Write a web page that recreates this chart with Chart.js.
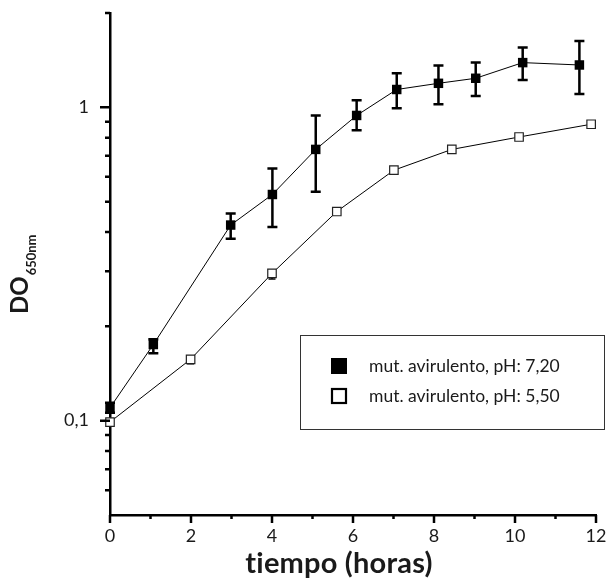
<!DOCTYPE html>
<html>
<head>
<meta charset="utf-8">
<script src="https://cdn.jsdelivr.net/npm/chart.js@4/dist/chart.umd.min.js"></script>
<style>
  html, body { margin: 0; padding: 0; background: #fff; }
  #wrap { width: 610px; height: 582px; }
</style>
</head>
<body>
<div id="wrap"><canvas id="growthChart" width="610" height="582"></canvas></div>
<script>
// pH 7,20 series (filled squares)
const timeA = [0, 1.07, 2.98, 4.01, 5.08, 6.09, 7.08, 8.11, 9.03, 10.19, 11.59];
const odA   = [0.110, 0.175, 0.421, 0.527, 0.734, 0.942, 1.14, 1.193, 1.238, 1.389, 1.365];
const hiA   = [0.114, 0.182, 0.458, 0.638, 0.942, 1.054, 1.284, 1.36, 1.389, 1.551, 1.628];
const loA   = [0.106, 0.164, 0.381, 0.415, 0.538, 0.845, 0.993, 1.022, 1.087, 1.222, 1.103];

// pH 5,50 series (open squares)
const timeB = [0, 1.99, 4.0, 5.6, 7.01, 8.44, 10.1, 11.88];
const odB   = [0.099, 0.157, 0.295, 0.465, 0.630, 0.734, 0.804, 0.883];
const hiB   = [0.101, 0.160, 0.300, 0.470, 0.636, 0.740, 0.812, 0.905];
const loB   = [0.097, 0.152, 0.283, 0.460, 0.624, 0.728, 0.796, 0.862];

const seriesLabels = ['mut. avirulento, pH: 7,20', 'mut. avirulento, pH: 5,50'];

// axis ticks
const xMajorTicks = [0, 2, 4, 6, 8, 10, 12];
const xMinorTicks = [1, 3, 5, 7, 9, 11];
const yMajorTicks = [0.1, 1];
const yMinorTicks = [0.06, 0.07, 0.08, 0.09, 0.2, 0.3, 0.4, 0.5, 0.6, 0.7, 0.8, 0.9, 2];
const yTickLabels = { '0.1': '0,1', '1': '1' };

const xTitle = 'tiempo (horas)';
const yTitleMain = 'DO';
const yTitleSub = '650nm';

const FONT = 'Lato, "Open Sans", sans-serif';
const INK = '#1a1a1a';

const toPoints = (xs, ys) => xs.map((x, i) => ({ x: x, y: ys[i] }));

// error bars, tick marks, legend box and titles
const extrasPlugin = {
    id: 'extras',
    beforeDatasetsDraw(chart) {
        const ctx = chart.ctx;
        const xs = chart.scales.x, ys = chart.scales.y;
        const bars = [
            { t: timeA, hi: hiA, lo: loA, w: 2.5, cap: 5 },
            { t: timeB, hi: hiB, lo: loB, w: 1.5, cap: 3.5 }
        ];
        ctx.save();
        ctx.strokeStyle = '#000';
        bars.forEach(b => {
            ctx.lineWidth = b.w;
            b.t.forEach((t, i) => {
                const px = xs.getPixelForValue(t);
                const top = ys.getPixelForValue(b.hi[i]);
                const bot = ys.getPixelForValue(b.lo[i]);
                ctx.beginPath();
                ctx.moveTo(px, top); ctx.lineTo(px, bot);
                ctx.moveTo(px - b.cap, top); ctx.lineTo(px + b.cap, top);
                ctx.moveTo(px - b.cap, bot); ctx.lineTo(px + b.cap, bot);
                ctx.stroke();
            });
        });
        ctx.restore();
    },
    afterDraw(chart) {
        const ctx = chart.ctx;
        const xs = chart.scales.x, ys = chart.scales.y;
        const area = chart.chartArea;
        ctx.save();
        // tick marks
        ctx.strokeStyle = '#000';
        ctx.lineWidth = 2.5;
        ctx.beginPath();
        xMajorTicks.forEach(v => { const p = xs.getPixelForValue(v); ctx.moveTo(p, area.bottom); ctx.lineTo(p, area.bottom + 8); });
        xMinorTicks.forEach(v => { const p = xs.getPixelForValue(v); ctx.moveTo(p, area.bottom); ctx.lineTo(p, area.bottom + 4); });
        yMajorTicks.forEach(v => { const p = ys.getPixelForValue(v); ctx.moveTo(area.left - 10, p); ctx.lineTo(area.left, p); });
        yMinorTicks.forEach(v => { const p = ys.getPixelForValue(v); ctx.moveTo(area.left - 5, p); ctx.lineTo(area.left, p); });
        ctx.stroke();

        // legend box
        const lx = 300, ly = 335, lw = 304, lh = 94;
        ctx.lineWidth = 1;
        ctx.strokeStyle = '#333';
        ctx.strokeRect(lx + 0.5, ly + 0.5, lw, lh);
        ctx.font = '17.5px ' + FONT;
        ctx.textBaseline = 'middle';
        ctx.textAlign = 'left';
        chart.data.datasets.forEach((ds, i) => {
            const cy = ly + 31 + i * 30;
            if (i === 0) {
                ctx.fillStyle = '#000';
                ctx.fillRect(331, cy - 8, 16, 16);
            } else {
                ctx.fillStyle = '#fff';
                ctx.fillRect(332, cy - 7, 14, 14);
                ctx.lineWidth = 2.2;
                ctx.strokeStyle = '#000';
                ctx.strokeRect(332, cy - 7, 14, 14);
            }
            ctx.fillStyle = INK;
            ctx.fillText(ds.label, 369, cy);
        });

        // x title (letter spacing keeps the "ti" ligature off)
        ctx.fillStyle = INK;
        ctx.font = 'bold 29px ' + FONT;
        ctx.letterSpacing = '0.2px';
        ctx.textAlign = 'center';
        ctx.textBaseline = 'alphabetic';
        ctx.fillText(xTitle, 339, 573);
        ctx.letterSpacing = '0px';

        // y title with subscript
        ctx.translate(28, 314);
        ctx.rotate(-Math.PI / 2);
        ctx.textAlign = 'left';
        ctx.font = 'bold 24px ' + FONT;
        ctx.fillText(yTitleMain, 0, 0);
        const w = ctx.measureText(yTitleMain).width;
        ctx.font = 'bold 13px ' + FONT;
        ctx.fillText(yTitleSub, w + 1, 8);
        ctx.restore();
    }
};

new Chart(document.getElementById('growthChart').getContext('2d'), {
    type: 'line',
    data: {
        datasets: [
            {
                label: seriesLabels[0],
                data: toPoints(timeA, odA),
                borderColor: '#000', borderWidth: 1,
                pointStyle: 'rect', pointRadius: 6.7,
                pointBackgroundColor: '#000', pointBorderColor: '#000', pointBorderWidth: 0,
                clip: false
            },
            {
                label: seriesLabels[1],
                data: toPoints(timeB, odB),
                borderColor: '#000', borderWidth: 1,
                pointStyle: 'rect', pointRadius: 6,
                pointBackgroundColor: '#fff', pointBorderColor: '#222', pointBorderWidth: 1.2,
                clip: false
            }
        ]
    },
    options: {
        responsive: false,
        animation: false,
        devicePixelRatio: 1,
        layout: { padding: { top: 13, right: 14, left: 0, bottom: 0 } },
        plugins: { legend: { display: false }, tooltip: { enabled: false } },
        scales: {
            x: {
                type: 'linear', min: 0, max: 12,
                afterBuildTicks: s => { s.ticks = xMajorTicks.map(v => ({ value: v })); },
                afterFit: s => { s.height = 67; s.paddingLeft = 0; s.paddingRight = 0; },
                grid: { display: false, drawTicks: false },
                border: { display: true, color: '#000', width: 2.5 },
                ticks: { color: INK, padding: 10, maxRotation: 0, font: { family: FONT, size: 18 } }
            },
            y: {
                type: 'logarithmic', min: 0.05, max: 2,
                afterBuildTicks: s => { s.ticks = yMajorTicks.map(v => ({ value: v })); },
                afterFit: s => { s.width = 110; s.paddingTop = 0; s.paddingBottom = 0; },
                grid: { display: false, drawTicks: false },
                border: { display: true, color: '#000', width: 2.5 },
                ticks: {
                    color: INK, padding: 21, font: { family: FONT, size: 18 },
                    callback: v => yTickLabels[String(v)] || ''
                }
            }
        }
    },
    plugins: [extrasPlugin]
});
</script>
</body>
</html>
